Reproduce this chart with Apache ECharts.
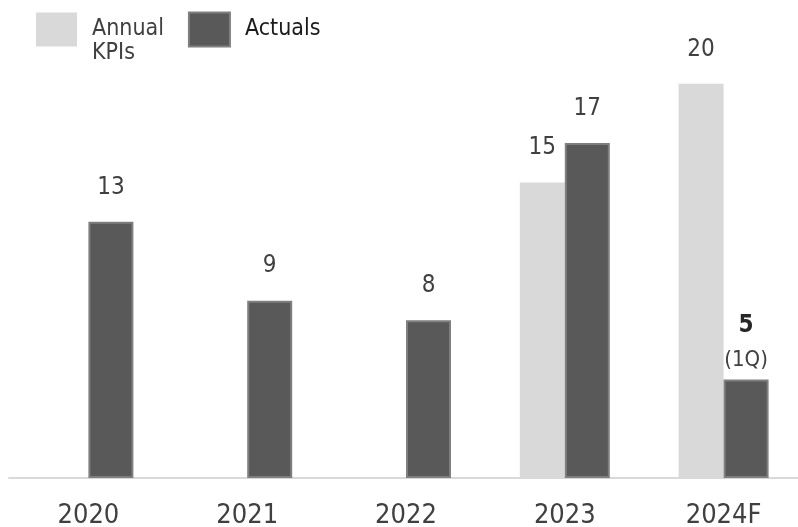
<html>
  <body style="margin:0">
    <div id="main" style="width:798px;height:527px;"></div>
  </body>
  <script src="https://cdn.jsdelivr.net/npm/echarts@6/dist/echarts.min.js"></script>
  <script>

var years = ['2020', '2021', '2022', '2023', '2024F'];
var kpis = [null, null, null, 15, 20];
var actuals = [13, 9, 8, 17, 5];

var font = '"DejaVu Sans Condensed", "DejaVu Sans", sans-serif';

var actualData = actuals.map(function (v, i) {
  if (years[i] !== '2024F') return v;
  // last year only has 1Q figure
  return {
    value: v,
    label: {
      distance: 2,
      formatter: '{b|{c}}\n{s|(1Q)}',
      rich: {
        b: { fontFamily: font, fontSize: 24, fontWeight: 'bold', color: '#262626', lineHeight: 36 },
        s: { fontFamily: font, fontSize: 22, color: '#404040', lineHeight: 34 }
      }
    }
  };
});

var chart = echarts.init(document.getElementById('main'));
chart.setOption({
  animation: false,
  legend: {
    left: 31,
    top: -20,
    icon: 'rect',
    itemWidth: 41,
    itemHeight: 34,
    itemGap: 24,
    textStyle: { fontFamily: font, fontSize: 23, color: '#404040', lineHeight: 24, padding: [0, 0, 0, 10] },
    // blank first line keeps "Annual" level with the box, "KPIs" hangs below
    formatter: function (name) {
      return name === 'Annual\nKPIs' ? '\n' + name : name;
    },
    data: [
      { name: 'Annual\nKPIs' },
      { name: 'Actuals', textStyle: { color: '#1a1a1a' } }
    ]
  },
  grid: { left: 9, right: -5, top: 5, bottom: 49, outerBoundsMode: 'none', containLabel: false },
  xAxis: {
    type: 'category',
    data: years,
    axisLine: { lineStyle: { color: '#d9d9d9', width: 2 } },
    axisTick: { show: false },
    axisLabel: { fontFamily: font, fontSize: 27, color: '#404040', margin: 14 }
  },
  yAxis: {
    type: 'value',
    min: 0,
    max: 24,
    show: false
  },
  series: [
    {
      name: 'Annual\nKPIs',
      type: 'bar',
      barWidth: 45,
      barGap: '0%',
      data: kpis,
      itemStyle: { color: '#d9d9d9' },
      label: { show: true, position: 'top', distance: 13, fontFamily: font, fontSize: 24, color: '#404040' }
    },
    {
      name: 'Actuals',
      type: 'bar',
      barWidth: 45,
      data: actualData,
      itemStyle: { color: '#595959', borderColor: '#7f7f7f', borderWidth: 2 },
      label: { show: true, position: 'top', distance: 13, fontFamily: font, fontSize: 24, color: '#404040' }
    }
  ]
});

  </script>
</html>
